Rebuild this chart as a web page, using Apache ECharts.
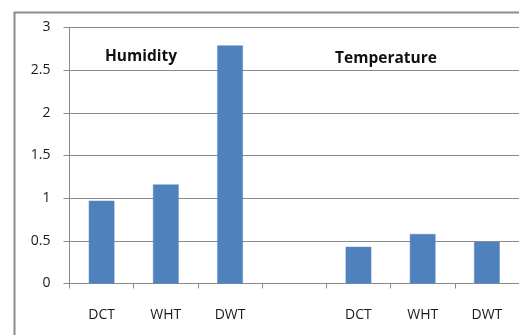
<!DOCTYPE html>
<html>
<head>
<meta charset="utf-8">
<script src="https://cdn.jsdelivr.net/npm/echarts@6/dist/echarts.min.js"></script>
<style>
  html, body { margin: 0; padding: 0; background: #ffffff; }
  #chart { width: 519px; height: 335px; }
</style>
</head>
<body>
<div id="chart"></div>
<script>
// Categories: humidity group, a spacer slot, then temperature group
var categories = ['DCT', 'WHT', 'DWT', '', 'DCT', 'WHT', 'DWT'];
var humidityValues = [0.97, 1.16, 2.79];
var temperatureValues = [0.43, 0.58, 0.49];
var groupLabels = ['Humidity', 'Temperature'];

// Single series laid out over the seven slots
var values = humidityValues.concat(['-'], temperatureValues);

var chart = echarts.init(document.getElementById('chart'));
var font = '"Open Sans"';

chart.setOption({
  animation: false,
  grid: { left: 69.5, top: 27.5, width: 455, height: 256 },
  xAxis: {
    type: 'category',
    data: categories,
    boundaryGap: true,
    axisLine: { lineStyle: { color: '#8a8a8a', width: 1 } },
    axisTick: { show: true, length: 5, alignWithLabel: false, lineStyle: { color: '#8a8a8a' } },
    axisLabel: { margin: 25, color: '#1a1a1a', fontFamily: font, fontSize: 14 }
  },
  yAxis: {
    type: 'value',
    min: 0,
    max: 3,
    interval: 0.5,
    axisLine: { show: true, lineStyle: { color: '#8a8a8a', width: 1 } },
    axisTick: { show: true, length: 6, lineStyle: { color: '#8a8a8a' } },
    axisLabel: { margin: 19, color: '#1a1a1a', fontFamily: font, fontSize: 14 },
    splitLine: { show: true, lineStyle: { color: '#8a8a8a', width: 1 } }
  },
  series: [{
    type: 'bar',
    data: values,
    barWidth: '40%',
    itemStyle: { color: '#4f81bd', borderColor: '#5b8cc8', borderWidth: 0.5 }
  }],
  graphic: [
    {
      type: 'rect',
      left: 12, top: 10,
      shape: { width: 530, height: 340 },
      style: { fill: 'none', stroke: '#8c8c8c', lineWidth: 2 },
      z: 0
    },
    {
      type: 'text',
      x: 141, y: 57,
      style: {
        text: groupLabels[0], fill: '#111', fontFamily: font, fontWeight: 'bold',
        fontSize: 15.5, align: 'center', verticalAlign: 'middle'
      }
    },
    {
      type: 'text',
      x: 386, y: 59,
      style: {
        text: groupLabels[1], fill: '#111', fontFamily: font, fontWeight: 'bold',
        fontSize: 15.5, align: 'center', verticalAlign: 'middle'
      }
    }
  ]
});
</script>
</body>
</html>
